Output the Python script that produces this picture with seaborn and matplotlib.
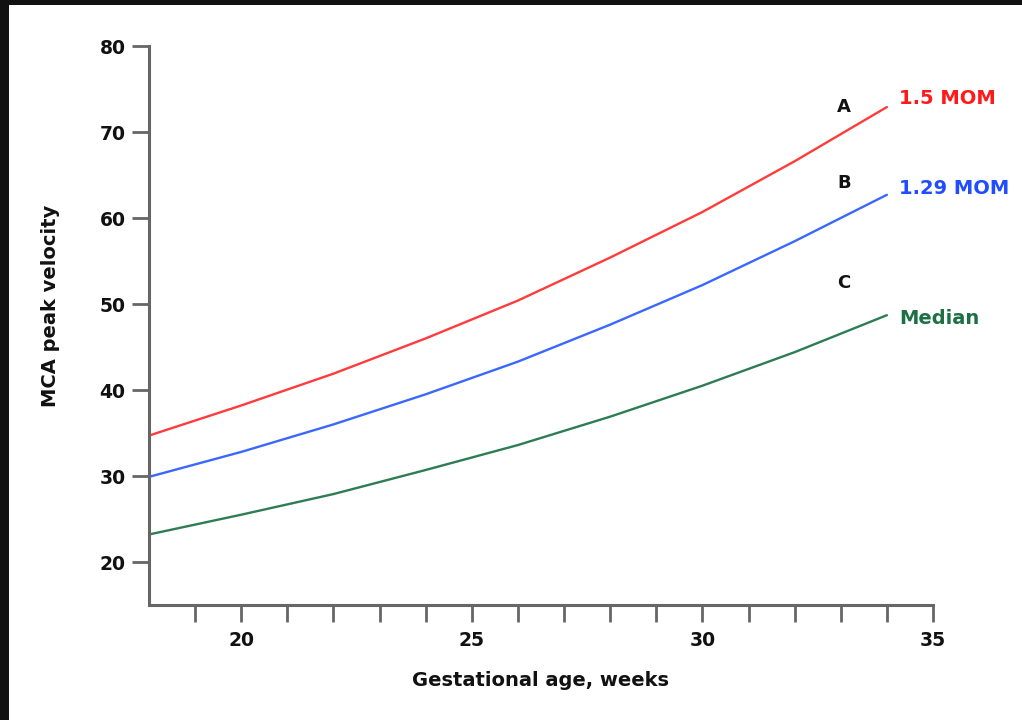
import numpy as np
import pandas as pd
import matplotlib
matplotlib.use("Agg")
import matplotlib.pyplot as plt
from matplotlib.patches import Rectangle
from matplotlib.ticker import FixedLocator
import seaborn as sns

# values
weeks = [18, 20, 22, 24, 26, 28, 30, 32, 34]
mom_15 = [34.7, 38.2, 41.9, 46.0, 50.4, 55.4, 60.7, 66.6, 72.9]
mom_129 = [29.9, 32.8, 36.0, 39.5, 43.3, 47.6, 52.2, 57.3, 62.7]
median = [23.2, 25.5, 27.9, 30.7, 33.6, 36.9, 40.5, 44.4, 48.7]

series_names = ["1.5 MOM", "1.29 MOM", "Median"]
line_colors = ["#ff3b3b", "#3a68ff", "#2e7d52"]
text_colors = ["#ff1a1a", "#1f4dff", "#1d7044"]
letters = ["A", "B", "C"]

x_major = [20, 25, 30, 35]
x_minor = [19, 21, 22, 23, 24, 26, 27, 28, 29, 31, 32, 33, 34]
y_major = [20, 30, 40, 50, 60, 70, 80]

df = pd.DataFrame({
    "week": weeks * 3,
    "value": mom_15 + mom_129 + median,
    "series": [n for n in series_names for _ in weeks],
})

sns.set_style("white")
plt.rcParams["font.family"] = ["DejaVu Sans"]
plt.rcParams["font.weight"] = "bold"

fig = plt.figure(figsize=(10.22, 7.2), dpi=100)
fig.patch.set_facecolor("#111111")
# white page inside the dark screenshot frame
fig.patches.append(Rectangle((9 / 1022, 0), 1, 1 - 5 / 720, transform=fig.transFigure,
                             facecolor="white", edgecolor="none", zorder=-10))
ax = fig.add_axes([149 / 1022, 1 - 605 / 720, 784 / 1022, 559 / 720])
ax.set_zorder(5)
ax.set_facecolor("white")

sns.lineplot(data=df, x="week", y="value", hue="series", palette=line_colors,
             hue_order=series_names, linewidth=1.7, legend=False, ax=ax)

ax.set_xlim(18, 35)
ax.set_ylim(15, 80)
ax.set_yticks(y_major)
ax.set_xticks(x_major)
ax.xaxis.set_minor_locator(FixedLocator(x_minor))

for s in ["top", "right"]:
    ax.spines[s].set_visible(False)
for s in ["left", "bottom"]:
    ax.spines[s].set_color("#666666")
    ax.spines[s].set_linewidth(2.2)

ax.tick_params(axis="both", which="both", direction="out", color="#666666", width=2,
               labelsize=13.5, labelcolor="#111111")
ax.tick_params(axis="y", which="major", left=True, length=12, pad=5)
ax.tick_params(axis="x", which="both", bottom=True, length=12, pad=7)
for lab in ax.get_xticklabels() + ax.get_yticklabels():
    lab.set_fontweight("bold")

ax.set_xlabel("Gestational age, weeks", fontsize=14, fontweight="bold", color="#111111")
ax.set_ylabel("MCA peak velocity", fontsize=14, fontweight="bold", color="#111111")
ax.xaxis.set_label_coords(0.5, -0.118)
ax.yaxis.set_label_coords(-0.1135, 0.535)

# letters and curve names on the right
letter_y = [72.9, 64.1, 52.5]
name_y = [73.9, 63.4, 48.3]
for i in range(3):
    ax.text(33.07, letter_y[i], letters[i], ha="center", va="center", fontsize=13,
            fontweight="bold", color="#111111", clip_on=False)
    ax.text(34.26, name_y[i], series_names[i], ha="left", va="center", fontsize=14,
            fontweight="bold", color=text_colors[i], clip_on=False)

fig.savefig("out.png", dpi=100, facecolor=fig.get_facecolor())
